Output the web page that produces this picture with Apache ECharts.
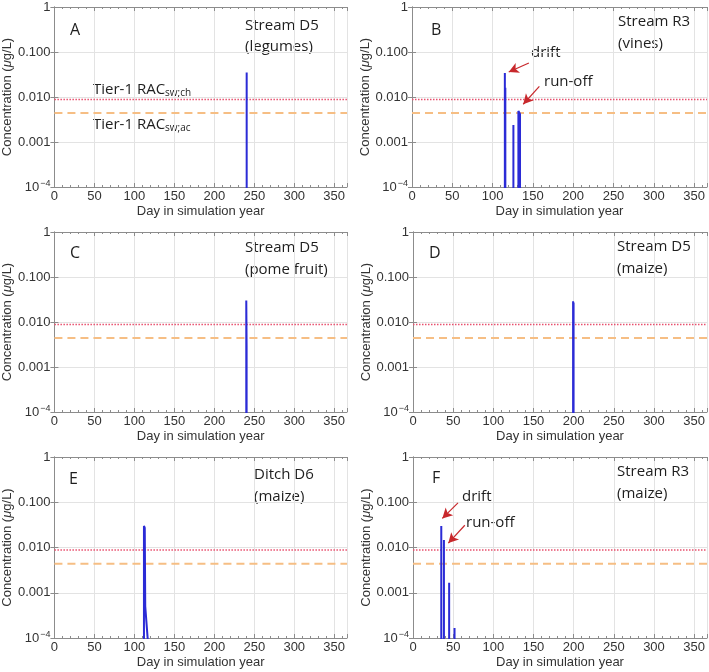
<!DOCTYPE html>
<html>
<head>
<meta charset="utf-8">
<script src="https://cdn.jsdelivr.net/npm/echarts@6/dist/echarts.min.js"></script>
<style>
  html, body { margin: 0; padding: 0; background: #fff; }
  #main { width: 709px; height: 672px; }
</style>
</head>
<body>
<div id="main"></div>
<script>
// threshold concentrations (µg/L)
var racCh = 0.0088;
var racAc = 0.0044;

// x axis: day in simulation year
var dayMin = 0, dayMax = 366, dayStep = 50;

// y axis labels (log scale, decades)
var yTickLabels = { '1': '1', '0.1': '0.100', '0.01': '0.010', '0.001': '0.001', '0.0001': '10{sup|−4}' };

// concentration peaks, one list of [day, value] per event
var eventsA = [[[240.5, 0.035]]];
var eventsB = [[[115.2, 0.034]], [[115.8, 0.016]], [[125.8, 0.0024]], [[132, 0.0049], [133, 0.0047], [134, 0.0042]]];
var eventsC = [[[240, 0.030], [240.4, 0.003]]];
var eventsD = [[[199.3, 0.029]], [[199.9, 0.027]]];
var eventsE = [[[112, 0.030], [113, 0.027], [113.6, 0.0005], [117, 0.00008]]];
var eventsF = [[[35.2, 0.030]], [[38.5, 0.0146]], [[45, 0.00166]], [[51.7, 0.000167]]];

// panel captions
var letters = ['A', 'B', 'C', 'D', 'E', 'F'];
var sites = [['Stream D5', '(legumes)'], ['Stream R3', '(vines)'], ['Stream D5', '(pome fruit)'],
             ['Stream D5', '(maize)'], ['Ditch D6', '(maize)'], ['Stream R3', '(maize)']];

// arrows: [from [day, conc], to [day, conc]]
var arrowsB = [[[145, 0.057], [120, 0.036]], [[158, 0.0173], [138, 0.0069]]];
var arrowsF = [[[56, 0.097], [36.5, 0.044]], [[64.5, 0.031], [44, 0.0125]]];

var allEvents = [eventsA, eventsB, eventsC, eventsD, eventsE, eventsF];
var allArrows = [null, arrowsB, null, null, null, arrowsF];

var grids = [
    { left: 51, top: 7, width: 296, height: 180 },
    { left: 412, top: 7, width: 295, height: 180 },
    { left: 51, top: 232, width: 296, height: 180 },
    { left: 413, top: 232, width: 294, height: 180 },
    { left: 51, top: 457, width: 296, height: 181 },
    { left: 413, top: 457, width: 294, height: 181 }
];

// caption positions [letter, site, second line]
var capPos = [
    [[70, 30], [245, 26], [245, 47]],
    [[431, 30], [618, 22], [618, 44]],
    [[70, 253], [245, 248], [245, 270]],
    [[429, 253], [617, 247], [617, 269]],
    [[69, 479], [254, 475], [254, 497]],
    [[432, 478], [617, 472], [617, 494]]
];

var FLOOR = 1e-7;
function traceData(events) {
    var out = [];
    events.forEach(function (ev) {
        out.push([ev[0][0], FLOOR]);
        ev.forEach(function (p) { out.push(p); });
        out.push([ev[ev.length - 1][0], FLOOR]);
    });
    return out;
}

var axisGray = '#8c8c8c';
var textColor = '#333';
var labelFont = 'Liberation Sans';
var capFont = 'Open Sans';
var capColor = '#1e1e1e';

var xAxes = [], yAxes = [], series = [], graphics = [];

grids.forEach(function (g, i) {
    // bottom + top x axes
    xAxes.push({
        gridIndex: i, type: 'value', min: dayMin, max: dayMax, interval: dayStep,
        name: 'Day in simulation year', nameLocation: 'middle', nameGap: 18,
        nameTextStyle: { fontFamily: labelFont, fontSize: 13, color: textColor },
        axisLine: { lineStyle: { color: axisGray } },
        axisTick: { inside: true, length: 4, lineStyle: { color: axisGray } },
        minorTick: { show: true, splitNumber: 5, length: 2, lineStyle: { color: axisGray } },
        axisLabel: { fontFamily: labelFont, fontSize: 13, color: textColor, margin: 3, showMaxLabel: false },
        splitLine: { show: true, lineStyle: { color: '#e3e3e3' } }
    });
    xAxes.push({
        gridIndex: i, type: 'value', position: 'top', min: dayMin, max: dayMax, interval: dayStep,
        axisLine: { lineStyle: { color: axisGray } },
        axisTick: { inside: true, length: 4, lineStyle: { color: axisGray } },
        minorTick: { show: true, splitNumber: 5, length: 2, lineStyle: { color: axisGray } },
        axisLabel: { show: false }, splitLine: { show: false }
    });
    // left + right y axes
    yAxes.push({
        gridIndex: i, type: 'log', logBase: 10, min: 0.0001, max: 1,
        name: '{n|Concentration (}{i|μ}{n|g/L)}', nameLocation: 'middle', nameGap: 38,
        nameTextStyle: {
            rich: {
                n: { fontFamily: labelFont, fontSize: 13, color: textColor },
                i: { fontFamily: labelFont, fontSize: 13, color: textColor, fontStyle: 'italic' }
            }
        },
        axisLine: { show: true, lineStyle: { color: axisGray } },
        axisTick: { show: true, inside: true, length: 4, lineStyle: { color: axisGray } },
        axisLabel: {
            fontFamily: labelFont, fontSize: 13, color: textColor, margin: 4,
            formatter: function (v) {
                var k = String(+v.toPrecision(3));
                return yTickLabels[k] !== undefined ? yTickLabels[k] : '';
            },
            rich: { sup: { fontFamily: labelFont, fontSize: 9, color: textColor, verticalAlign: 'top', padding: [0, 0, 6, 1] } }
        },
        splitLine: { show: true, lineStyle: { color: '#e3e3e3' } }
    });
    yAxes.push({
        gridIndex: i, type: 'log', logBase: 10, min: 0.0001, max: 1, position: 'right',
        axisLine: { show: true, lineStyle: { color: axisGray } },
        axisTick: { show: true, inside: true, length: 4, lineStyle: { color: axisGray } },
        axisLabel: { show: false }, splitLine: { show: false }
    });

    var xi = 2 * i, yi = 2 * i;
    series.push({
        type: 'line', xAxisIndex: xi, yAxisIndex: yi, symbol: 'none', silent: true,
        data: [[dayMin, racCh], [dayMax, racCh]],
        lineStyle: { color: '#e8506e', width: 1.6, type: [1.5, 1.5] }
    });
    series.push({
        type: 'line', xAxisIndex: xi, yAxisIndex: yi, symbol: 'none', silent: true,
        data: [[dayMin, racAc], [dayMax, racAc]],
        lineStyle: { color: '#f6be84', width: 2, type: [8, 5] }
    });
    series.push({
        type: 'line', xAxisIndex: xi, yAxisIndex: yi, symbol: 'none', silent: true, clip: true,
        data: traceData(allEvents[i]),
        lineStyle: { color: '#2b2bd6', width: 2 }
    });
    if (allArrows[i]) {
        series.push({
            type: 'line', xAxisIndex: xi, yAxisIndex: yi, data: [], silent: true,
            markLine: {
                silent: true, symbol: ['none', 'arrow'], symbolSize: [8, 10],
                label: { show: false },
                lineStyle: { color: '#c8282c', width: 1.2, type: 'solid' },
                data: allArrows[i].map(function (a) {
                    return [{ coord: a[0] }, { coord: a[1] }];
                })
            }
        });
    }

    // captions
    var p = capPos[i];
    graphics.push({ type: 'text', x: p[0][0], y: p[0][1],
        style: { text: letters[i], fontFamily: capFont, fontSize: 16, fill: capColor, verticalAlign: 'middle' } });
    graphics.push({ type: 'text', x: p[1][0], y: p[1][1],
        style: { text: sites[i][0], fontFamily: capFont, fontSize: 15, fill: capColor, verticalAlign: 'middle' } });
    graphics.push({ type: 'text', x: p[2][0], y: p[2][1],
        style: { text: sites[i][1], fontFamily: capFont, fontSize: 15, fill: capColor, verticalAlign: 'middle' } });
});

// threshold labels in panel A
var subRich = {
    m: { fontFamily: capFont, fontSize: 15, fill: capColor },
    s: { fontFamily: capFont, fontSize: 10, fill: capColor, padding: [7, 0, 0, 0] }
};
graphics.push({ type: 'text', x: 93, y: 90,
    style: { text: '{m|Tier-1 RAC}{s|sw;ch}', rich: subRich, verticalAlign: 'middle' } });
graphics.push({ type: 'text', x: 93, y: 125,
    style: { text: '{m|Tier-1 RAC}{s|sw;ac}', rich: subRich, verticalAlign: 'middle' } });

// arrow labels
[['drift', 531, 53], ['run-off', 544, 82], ['drift', 462, 497], ['run-off', 466, 523]].forEach(function (t) {
    graphics.push({ type: 'text', x: t[1], y: t[2],
        style: { text: t[0], fontFamily: capFont, fontSize: 15, fill: capColor, verticalAlign: 'middle' } });
});

var myChart = echarts.init(document.getElementById('main'));
myChart.setOption({
    animation: false,
    backgroundColor: '#fff',
    grid: grids,
    xAxis: xAxes,
    yAxis: yAxes,
    series: series,
    graphic: graphics
});
</script>
</body>
</html>
